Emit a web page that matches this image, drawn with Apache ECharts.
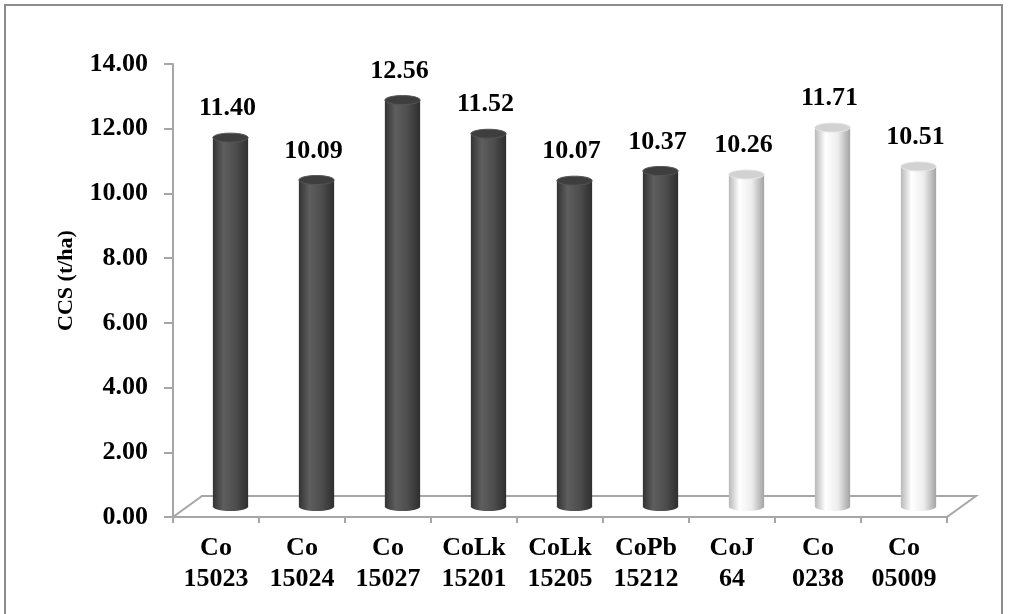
<!DOCTYPE html>
<html>
<head>
<meta charset="utf-8">
<script src="https://cdn.jsdelivr.net/npm/echarts@6/dist/echarts.min.js"></script>
<style>
html,body{margin:0;padding:0;background:#fff;}
#chart{width:1010px;height:614px;}
</style>
</head>
<body>
<div id="chart"></div>
<script>
const categories = ['Co\n15023','Co\n15024','Co\n15027','CoLk\n15201','CoLk\n15205','CoPb\n15212','CoJ\n64','Co\n0238','Co\n05009'];
const ccsValues = [11.40, 10.09, 12.56, 11.52, 10.07, 10.37, 10.26, 11.71, 10.51];
const isCheck = [false, false, false, false, false, false, true, true, true];
const yTicks = { min: 0, max: 14, interval: 2 };
const yTitle = 'CCS (t/ha)';

const FONT = '"Liberation Serif", "Times New Roman", serif';
const DEPTH_X = 29, DEPTH_Y = -21;

const darkBody = {type:'linear',x:0,y:0,x2:1,y2:0,colorStops:[
  {offset:0,color:'#333333'},{offset:0.3,color:'#5e5e5e'},{offset:0.65,color:'#4d4d4d'},{offset:1,color:'#2e2e2e'}]};
const lightBody = {type:'linear',x:0,y:0,x2:1,y2:0,colorStops:[
  {offset:0,color:'#b8b8b8'},{offset:0.3,color:'#ffffff'},{offset:0.65,color:'#ededed'},{offset:1,color:'#a3a3a3'}]};

function renderBar(params, api) {
  const idx = api.value(0);
  const val = api.value(1);
  const base = api.coord([idx, 0]);
  const top = api.coord([idx, val]);
  const bw = api.size([1, 0])[0] * 0.41;
  const rx = bw / 2, ry = 4.5;
  const cx = base[0] + DEPTH_X / 2;
  const yb = base[1] + DEPTH_Y / 2;
  const yt = top[1] + DEPTH_Y / 2;
  const light = isCheck[idx];
  const children = [];
  if (params.dataIndex === 0) {
    const cs = params.coordSys;
    const fx0 = cs.x, fy = cs.y + cs.height, fx1 = cs.x + cs.width;
    children.push({
      type: 'polyline',
      shape: { points: [[fx0, fy], [fx0 + DEPTH_X, fy + DEPTH_Y], [fx1 + DEPTH_X, fy + DEPTH_Y], [fx1, fy]] },
      style: { stroke: '#a6a6a6', lineWidth: 2, fill: null }
    });
  }
  children.push({
    type: 'ellipse',
    shape: { cx: cx, cy: yb, rx: rx, ry: ry },
    style: { fill: light ? lightBody : darkBody }
  });
  children.push({
    type: 'rect',
    shape: { x: cx - rx, y: yt, width: bw, height: yb - yt },
    style: { fill: light ? lightBody : darkBody }
  });
  children.push({
    type: 'ellipse',
    shape: { cx: cx, cy: yt, rx: rx, ry: ry },
    style: { fill: light ? '#d2d2d2' : '#3e3e3e', stroke: light ? '#e6e6e6' : '#555555', lineWidth: 1 }
  });
  children.push({
    type: 'text',
    style: {
      text: val.toFixed(2), x: cx - 3, y: yt - 29,
      align: 'center', verticalAlign: 'middle',
      fontSize: 26, fontWeight: 'bold', fontFamily: FONT, fill: '#000'
    }
  });
  return { type: 'group', children: children };
}

const chart = echarts.init(document.getElementById('chart'));
chart.setOption({
  backgroundColor: '#ffffff',
  animation: false,
  graphic: [{
    type: 'rect', z: 100,
    shape: { x: 5, y: 5, width: 997, height: 640 },
    style: { fill: null, stroke: '#8c8c8c', lineWidth: 2 }
  }],
  grid: { left: 173, right: 63, top: 64, bottom: 97 },
  xAxis: {
    type: 'category',
    data: categories,
    axisLine: { lineStyle: { color: '#a6a6a6', width: 2 } },
    axisTick: { show: true, length: 6, lineStyle: { color: '#a6a6a6', width: 2 } },
    axisLabel: {
      interval: 0, margin: 16, color: '#000', fontSize: 26, lineHeight: 31,
      fontWeight: 'bold', fontFamily: FONT
    },
    splitLine: { show: false }
  },
  yAxis: {
    type: 'value',
    min: yTicks.min, max: yTicks.max, interval: yTicks.interval,
    name: yTitle,
    nameLocation: 'middle',
    nameRotate: 90,
    nameGap: 96,
    nameTextStyle: { fontSize: 22, fontWeight: 'bold', fontFamily: FONT, color: '#000', padding: [0, 0, 0, 20] },
    axisLine: { show: true, lineStyle: { color: '#a6a6a6', width: 2 } },
    axisTick: { show: true, length: 9, lineStyle: { color: '#a6a6a6', width: 2 } },
    axisLabel: {
      margin: 25, color: '#000', fontSize: 26, fontWeight: 'bold', fontFamily: FONT,
      formatter: function (v) { return v.toFixed(2); }
    },
    splitLine: { show: false }
  },
  series: [{
    type: 'custom',
    renderItem: renderBar,
    clip: false,
    encode: { x: 0, y: 1 },
    data: ccsValues.map(function (v, i) { return [i, v]; })
  }]
});
</script>
</body>
</html>
